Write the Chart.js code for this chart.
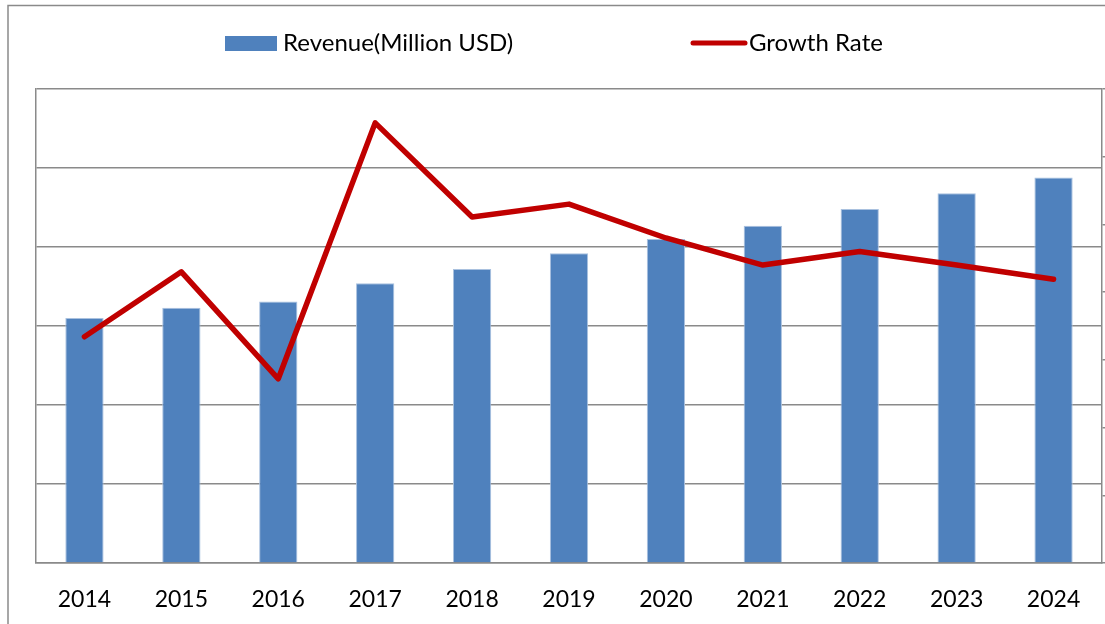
<!DOCTYPE html>
<html>
<head>
<meta charset="utf-8">
<script src="https://cdn.jsdelivr.net/npm/chart.js@4.4.1/dist/chart.umd.min.js"></script>
<style>
  html, body { margin: 0; padding: 0; background: #fff; }
  canvas { display: block; }
</style>
</head>
<body>
<canvas id="chart" width="1105" height="624"></canvas>
<script>
var years = ['2014', '2015', '2016', '2017', '2018', '2019', '2020', '2021', '2022', '2023', '2024'];
var revenue = [310, 323, 331, 354, 372, 392, 410, 427, 448, 468, 488];
var growthRate = [3.34, 4.30, 2.72, 6.50, 5.11, 5.30, 4.80, 4.40, 4.60, 4.40, 4.19];
var revenueLabel = 'Revenue(Million USD)';
var growthLabel = 'Growth Rate';

var BLUE = '#4F81BD';
var RED = '#C00000';
var GRID = '#8a8a8a';
var FONT = 'Lato, "Open Sans", sans-serif';

// outer frame + hand placed legend (gap between items is too wide for the built-in one)
var framePlugin = {
  id: 'frame',
  beforeDraw: function(chart) {
    var ctx = chart.ctx;
    ctx.save();
    ctx.strokeStyle = GRID;
    ctx.lineWidth = 1.5;
    ctx.beginPath();
    ctx.moveTo(8, chart.height);
    ctx.lineTo(8, 5.5);
    ctx.lineTo(chart.width, 5.5);
    ctx.stroke();
    ctx.restore();
  },
  afterDraw: function(chart) {
    var ctx = chart.ctx;
    var y = 43;
    ctx.save();
    ctx.fillStyle = BLUE;
    ctx.fillRect(225, 36, 52, 15);
    ctx.strokeStyle = RED;
    ctx.lineWidth = 5;
    ctx.lineCap = 'round';
    ctx.beginPath();
    ctx.moveTo(693, y);
    ctx.lineTo(745, y);
    ctx.stroke();
    ctx.fillStyle = '#000';
    ctx.font = '24px ' + FONT;
    ctx.textBaseline = 'middle';
    ctx.fillText(revenueLabel, 283, y);
    ctx.fillText(growthLabel, 749, y);
    ctx.restore();
  }
};

new Chart(document.getElementById('chart'), {
  data: {
    labels: years,
    datasets: [
      {
        type: 'line',
        label: growthLabel,
        data: growthRate,
        yAxisID: 'y1',
        order: 0,
        borderColor: RED,
        borderWidth: 5.5,
        borderCapStyle: 'round',
        borderJoinStyle: 'round',
        pointRadius: 0,
        tension: 0
      },
      {
        type: 'bar',
        label: revenueLabel,
        data: revenue,
        yAxisID: 'y',
        order: 1,
        backgroundColor: BLUE,
        borderColor: '#a9c1df',
        borderWidth: 1,
        categoryPercentage: 1,
        barPercentage: 0.395
      }
    ]
  },
  options: {
    responsive: false,
    animation: false,
    layout: { padding: { left: 36, top: 89, right: 0, bottom: 12 } },
    plugins: {
      legend: { display: false },
      tooltip: { enabled: false }
    },
    scales: {
      x: {
        grid: { display: false, drawTicks: false },
        border: { display: true, color: GRID, width: 1.5 },
        ticks: { color: '#000', font: { family: FONT, size: 23 }, padding: 23 },
        afterFit: function(scale) { scale.height = 49; }
      },
      y: {
        position: 'left',
        min: 0,
        max: 600,
        ticks: { display: false, stepSize: 100 },
        grid: { color: GRID, lineWidth: 1.5, drawTicks: false },
        border: { display: true, color: GRID, width: 1.5 }
      },
      y1: {
        position: 'right',
        min: 0,
        max: 7,
        ticks: { display: false, stepSize: 1 },
        grid: { drawOnChartArea: false, drawTicks: true, tickLength: 3, color: GRID, lineWidth: 1.5 },
        border: { display: true, color: GRID, width: 1.5 }
      }
    }
  },
  plugins: [framePlugin]
});
</script>
</body>
</html>
